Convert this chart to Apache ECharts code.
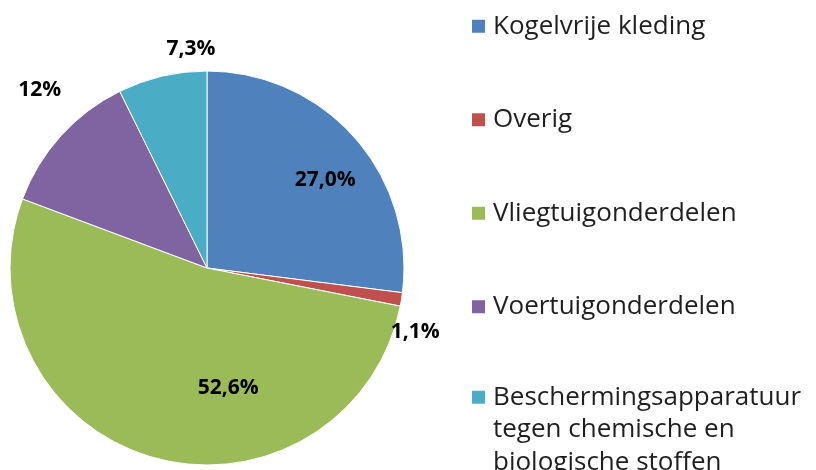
<!DOCTYPE html>
<html>
<head>
<meta charset="utf-8">
<script src="https://cdn.jsdelivr.net/npm/echarts@6/dist/echarts.min.js"></script>
<style>
  html, body { margin: 0; padding: 0; background: #fff; }
  #chart { width: 816px; height: 470px; }
</style>
</head>
<body>
<div id="chart"></div>
<script>
// slices, clockwise from 12 o'clock
const categories = [
  'Kogelvrije kleding',
  'Overig',
  'Vliegtuigonderdelen',
  'Voertuigonderdelen',
  'Beschermingsapparatuur\ntegen chemische en\nbiologische stoffen'
];
const shares = [27.0, 1.1, 52.6, 12, 7.3];
const shareLabels = ['27,0%', '1,1%', '52,6%', '12%', '7,3%'];

const colors = ['#4F81BD', '#C0504D', '#9BBB59', '#8064A2', '#4BACC6'];
// nudge each label from its default inside spot to where the original has it
const labelOffsets = [[42, -21], [108, 48], [49, 22], [-92, -110], [7, -120]];

const chart = echarts.init(document.getElementById('chart'));

const legendBase = {
  orient: 'vertical',
  left: 470,
  height: 900,
  padding: 0,
  itemWidth: 15,
  itemHeight: 15,
  itemGap: 61,
  icon: 'rect',
  selectedMode: false,
  textStyle: {
    fontFamily: 'Open Sans',
    fontSize: 26,
    lineHeight: 32.5,
    color: '#1f1f1f',
    padding: [0, 0, 0, 2]
  }
};

const option = {
  animation: false,
  legend: [
    Object.assign({}, legendBase, { top: 10, data: categories.slice(0, 4) }),
    // wrapped label: two blank lines in front so the marker sits on the first line
    Object.assign({}, legendBase, {
      top: 316,
      data: categories.slice(4),
      formatter: name => '\n\n' + name
    })
  ],
  series: [{
    type: 'pie',
    center: [207, 268],
    radius: [0, 197],
    startAngle: 90,
    clockwise: true,
    avoidLabelOverlap: false,
    itemStyle: { borderColor: '#fff', borderWidth: 1 },
    label: {
      position: 'inside',
      fontFamily: 'Open Sans',
      fontWeight: 'bold',
      fontSize: 21,
      color: '#000'
    },
    labelLine: { show: false },
    data: categories.map((c, i) => ({
      name: c,
      value: shares[i],
      itemStyle: { color: colors[i] },
      label: { formatter: shareLabels[i], offset: labelOffsets[i] }
    }))
  }]
};

chart.setOption(option);
</script>
</body>
</html>
